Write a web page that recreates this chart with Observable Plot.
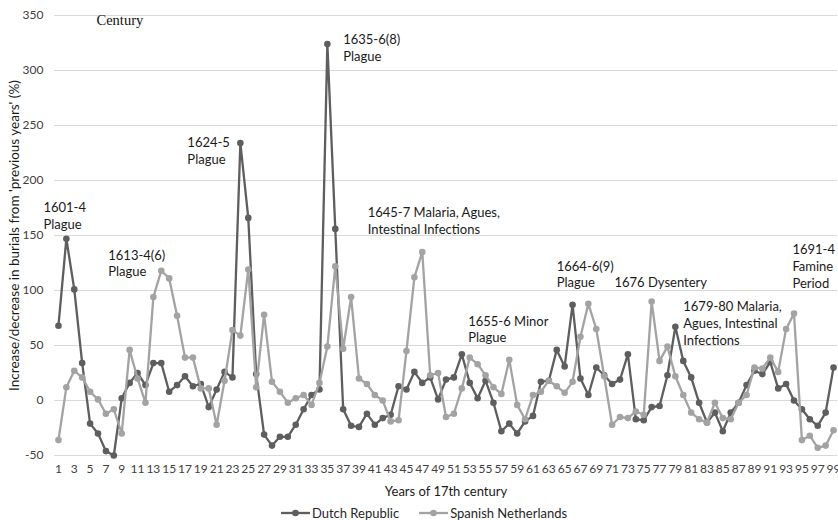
<!DOCTYPE html>
<html>
<head>
<meta charset="utf-8">
<script src="https://cdn.jsdelivr.net/npm/d3@7"></script>
<script src="https://cdn.jsdelivr.net/npm/@observablehq/plot@0.6"></script>
<style>
  html, body { margin: 0; padding: 0; background: #fff; }
  #chart svg { display: block; }
  #legend { height: 20px; display: flex; justify-content: center; align-items: center;
            font-family: Lato, sans-serif; font-size: 13px; color: #262626;
            padding-left: 10px; box-sizing: border-box; transform: translateY(3px); }
  #legend .item { display: flex; align-items: center; margin: 0 10px; }
  #legend svg { margin-right: 2px; }
</style>
</head>
<body>
<div id="chart"></div>
<div id="legend"></div>
<script>
const years = d3.range(1, 100);
const seriesNames = ["Dutch Republic", "Spanish Netherlands"];
const dutch = [68, 147, 101, 34, -21, -30, -46, -50, 2, 16,
  25, 14, 34, 34, 8, 14, 22, 13, 15, -6,
  10, 26, 21, 234, 166, 24, -31, -41, -33, -33,
  -22, -8, 5, 10, 324, 156, -8, -23, -24, -12,
  -22, -16, -13, 13, 10, 26, 16, 21, 1, 19,
  21, 42, 16, 2, 18, -2, -28, -21, -30, -19,
  -14, 17, 18, 46, 31, 87, 20, 5, 30, 23,
  15, 19, 42, -17, -18, -6, -5, 23, 67, 36,
  21, -2, -20, -11, -28, -11, -2, 14, 27, 24,
  35, 11, 15, 0, -8, -17, -23, -11, 30];
const spanish = [-36, 12, 27, 21, 8, 1, -12, -8, -30, 46,
  20, -2, 94, 118, 111, 77, 39, 39, 11, 11,
  -22, 18, 64, 59, 119, 12, 78, 17, 8, -2,
  2, 5, -4, 16, 49, 122, 47, 94, 20, 15,
  5, 0, -19, -18, 45, 112, 135, 23, 25, -15,
  -12, 11, 39, 33, 23, 12, 6, 37, -4, -17,
  5, 8, 18, 13, 7, 17, 58, 88, 65, 22,
  -22, -15, -16, -10, -13, 90, 36, 49, 22, 5,
  -11, -17, -20, -2, -16, -17, -2, 5, 30, 29,
  39, 26, 65, 79, -36, -32, -43, -41, -27];
const yTicks = [-50, 0, 50, 100, 150, 200, 250, 300, 350];
const xTicks = years.filter(y => y % 2 === 1);
const noteLabels = ["1601-4\nPlague", "1613-4(6)\nPlague", "1624-5\nPlague", "1635-6(8)\nPlague",
  "1645-7 Malaria, Agues,\nIntestinal Infections", "1655-6 Minor\nPlague", "1664-6(9)\nPlague",
  "1676 Dysentery", "1679-80 Malaria,\nAgues, Intestinal\nInfections", "1691-4\nFamine\nPeriod"];
const noteYears = [-0.9, 7.3, 17.3, 37.0, 40.1, 52.8, 64.0, 71.3, 80.0, 93.8];
const noteValues = [182, 139, 241, 335, 178, 79, 129, 114, 92, 144];

const colors = ["#5e5e5e", "#a3a3a3"];
const rowsFor = (vals) => years.map((yr, i) => ({year: yr, value: vals[i]}));
const dutchRows = rowsFor(dutch);
const spanishRows = rowsFor(spanish);
const notes = noteLabels.map((t, i) => ({label: t, year: noteYears[i], value: noteValues[i]}));

const chart = Plot.plot({
  width: 838, height: 500,
  marginLeft: 54, marginRight: 1, marginTop: 15, marginBottom: 45,
  style: {fontFamily: "Lato, sans-serif", fontSize: "12px", color: "#404040", background: "#fff", overflow: "visible"},
  x: {domain: [0.5, 99.5]},
  y: {domain: [-50, 350]},
  marks: [
    Plot.gridY(yTicks, {stroke: "#d9d9d9", strokeOpacity: 1, strokeWidth: 1}),
    Plot.axisX(xTicks, {tickSize: 0, tickPadding: 9, label: null, tickFormat: d => String(d), fontSize: 12}),
    Plot.axisY(yTicks, {tickSize: 0, tickPadding: 11, label: null, tickFormat: d => String(d), fontSize: 12}),
    Plot.line(dutchRows, {x: "year", y: "value", stroke: colors[0], strokeWidth: 2.3}),
    Plot.dot(dutchRows, {x: "year", y: "value", fill: colors[0], r: 3.3}),
    Plot.line(spanishRows, {x: "year", y: "value", stroke: colors[1], strokeWidth: 2.3}),
    Plot.dot(spanishRows, {x: "year", y: "value", fill: colors[1], r: 3.3}),
    Plot.text(notes, {x: "year", y: "value", text: "label", textAnchor: "start", lineAnchor: "top",
      lineHeight: 1.3, fontSize: 13, fill: "#1a1a1a"}),
    Plot.text(["Increase/decrease in burials from 'previous years' (%)"], {text: d => d,
      frameAnchor: "left", dx: -40, rotate: -90, textAnchor: "middle", lineAnchor: "middle",
      fontSize: 13.5, fill: "#1a1a1a"}),
    Plot.text(["Years of 17th century"], {text: d => d, frameAnchor: "bottom", dy: 36,
      lineAnchor: "middle", fontSize: 13, fill: "#1a1a1a"}),
    Plot.text(["Century"], {text: d => d, frameAnchor: "top-left", dx: 42, dy: 5,
      textAnchor: "start", lineAnchor: "middle", fontFamily: "Liberation Serif", fontSize: 14.5, fill: "#111"})
  ]
});
document.getElementById("chart").appendChild(chart);

const legend = document.getElementById("legend");
seriesNames.forEach((name, i) => {
  const item = document.createElement("div");
  item.className = "item";
  item.innerHTML = `<svg width="29" height="10"><line x1="0" x2="29" y1="5" y2="5" stroke="${colors[i]}" stroke-width="2.3"/><circle cx="14.5" cy="5" r="3.3" fill="${colors[i]}"/></svg><span>${name}</span>`;
  legend.appendChild(item);
});
</script>
</body>
</html>
